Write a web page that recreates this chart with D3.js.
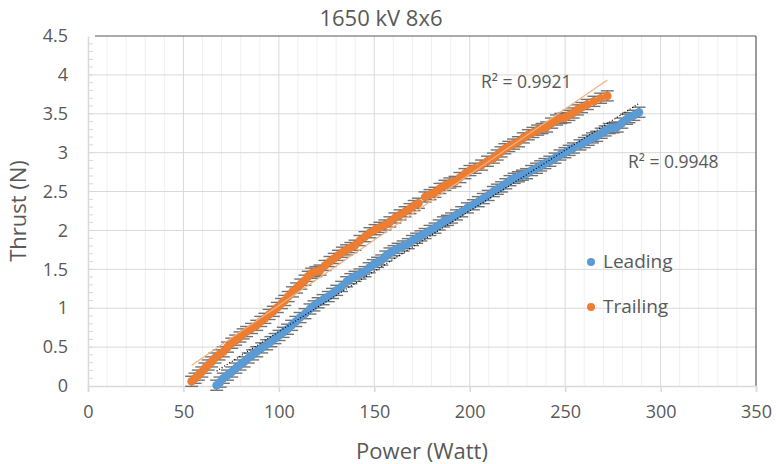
<!DOCTYPE html>
<html>
<head>
<meta charset="utf-8">
<script src="https://cdn.jsdelivr.net/npm/d3@7"></script>
<style>
  body { margin: 0; background: #fff; }
  text { font-family: "Open Sans", sans-serif; fill: #595959; }
</style>
</head>
<body>
<div id="chart"></div>
<script>
// values
const leadingPower = [67.4, 69.2, 70.9, 73.1, 75.3, 77.5, 79.6, 81.8, 84.0, 86.2, 88.4, 91.0, 93.6, 95.8, 98.0, 100.1, 102.3, 104.5, 106.7, 108.9, 111.1, 113.7, 116.3, 118.4, 120.6, 123.2, 125.9, 128.1, 130.3, 132.9, 135.5, 137.7, 139.9, 142.5, 145.1, 147.3, 149.5, 151.7, 153.9, 156.0, 158.2, 160.3, 162.5, 165.1, 167.8, 170.0, 172.2, 174.4, 176.6, 179.2, 181.8, 184.0, 186.2, 188.3, 190.5, 193.1, 195.8, 198.8, 201.9, 204.5, 207.1, 209.7, 212.4, 214.5, 216.7, 218.9, 221.1, 223.3, 225.5, 227.6, 229.8, 232.4, 235.0, 237.2, 239.4, 242.0, 244.7, 247.3, 249.9, 252.1, 254.3, 257.8, 260.0, 262.1, 264.3, 266.5, 268.9, 271.0, 273.1, 275.2, 277.3, 279.7, 282.2, 283.4, 286.0, 288.7];
const leadingThrust = [0.01, 0.05, 0.10, 0.14, 0.18, 0.23, 0.27, 0.31, 0.36, 0.40, 0.44, 0.49, 0.53, 0.57, 0.61, 0.65, 0.69, 0.73, 0.78, 0.83, 0.88, 0.93, 0.99, 1.03, 1.07, 1.11, 1.15, 1.19, 1.23, 1.28, 1.34, 1.38, 1.41, 1.44, 1.47, 1.52, 1.56, 1.59, 1.62, 1.67, 1.71, 1.74, 1.77, 1.80, 1.83, 1.87, 1.90, 1.93, 1.96, 2.00, 2.03, 2.07, 2.11, 2.13, 2.16, 2.20, 2.24, 2.29, 2.33, 2.37, 2.41, 2.45, 2.50, 2.53, 2.56, 2.60, 2.64, 2.67, 2.69, 2.71, 2.73, 2.77, 2.80, 2.83, 2.86, 2.89, 2.93, 2.97, 3.00, 3.03, 3.06, 3.10, 3.13, 3.16, 3.19, 3.21, 3.25, 3.28, 3.31, 3.32, 3.33, 3.38, 3.43, 3.45, 3.48, 3.52];

const trailingPower = [54.3, 56.1, 57.8, 59.6, 61.3, 63.0, 64.7, 66.5, 68.7, 70.9, 73.1, 75.3, 77.4, 79.6, 81.3, 83.1, 85.7, 88.4, 90.5, 92.7, 94.9, 97.1, 99.2, 101.4, 103.1, 104.9, 107.1, 109.3, 111.5, 113.7, 115.4, 117.2, 119.4, 121.6, 124.2, 126.8, 129.0, 131.2, 133.3, 135.5, 137.7, 139.9, 142.5, 145.1, 147.7, 150.4, 153.0, 155.6, 158.2, 160.8, 163.5, 166.1, 168.7, 170.9, 173.1, 176.6, 179.2, 181.8, 184.4, 187.0, 189.6, 192.3, 194.9, 197.5, 200.1, 202.8, 206.2, 209.3, 212.4, 214.4, 216.4, 218.4, 220.5, 223.0, 225.5, 228.1, 230.7, 233.1, 235.6, 237.9, 240.3, 242.9, 245.5, 247.7, 249.9, 252.0, 254.2, 256.4, 258.6, 261.6, 265.1, 268.6, 272.1];
const trailingThrust = [0.06, 0.10, 0.14, 0.18, 0.23, 0.27, 0.31, 0.36, 0.40, 0.44, 0.50, 0.55, 0.59, 0.63, 0.67, 0.70, 0.74, 0.78, 0.83, 0.87, 0.92, 0.96, 1.01, 1.06, 1.10, 1.15, 1.21, 1.26, 1.31, 1.36, 1.41, 1.45, 1.47, 1.49, 1.55, 1.60, 1.64, 1.68, 1.72, 1.75, 1.78, 1.81, 1.87, 1.92, 1.97, 2.01, 2.04, 2.07, 2.11, 2.16, 2.20, 2.24, 2.28, 2.32, 2.35, 2.43, 2.46, 2.49, 2.54, 2.58, 2.61, 2.63, 2.68, 2.73, 2.77, 2.80, 2.84, 2.89, 2.93, 2.97, 3.01, 3.05, 3.08, 3.11, 3.14, 3.19, 3.23, 3.26, 3.29, 3.31, 3.33, 3.38, 3.42, 3.44, 3.45, 3.48, 3.51, 3.55, 3.58, 3.62, 3.66, 3.70, 3.73];

const thrustError = 0.065;

const xTicks = [0, 50, 100, 150, 200, 250, 300, 350];
const yTicks = [0, 0.5, 1, 1.5, 2, 2.5, 3, 3.5, 4, 4.5];
const seriesNames = ["Leading", "Trailing"];
const seriesColors = ["#5B9BD5", "#ED7D31"];
const r2Labels = ["R² = 0.9948", "R² = 0.9921"];

const w = 776, h = 464;
const margin = { left: 88, right: 20, top: 36, bottom: 78 };

const x = d3.scaleLinear().domain([0, 350]).range([margin.left, w - margin.right]);
const y = d3.scaleLinear().domain([0, 4.5]).range([h - margin.bottom, margin.top]);

const svg = d3.select("#chart").append("svg").attr("width", w).attr("height", h);

// minor vertical gridlines every 10
svg.append("g").selectAll("line")
  .data(d3.range(10, 350, 10).filter(v => v % 50 !== 0))
  .enter().append("line")
  .attr("x1", d => x(d)).attr("x2", d => x(d))
  .attr("y1", y(0)).attr("y2", y(4.5))
  .attr("stroke", "#f0f0f0").attr("stroke-width", 1);

// major gridlines
svg.append("g").selectAll("line")
  .data(xTicks.slice(1, -1))
  .enter().append("line")
  .attr("x1", d => x(d)).attr("x2", d => x(d))
  .attr("y1", y(0)).attr("y2", y(4.5))
  .attr("stroke", "#d9d9d9").attr("stroke-width", 1);

svg.append("g").selectAll("line")
  .data(yTicks.slice(1, -1))
  .enter().append("line")
  .attr("x1", x(0)).attr("x2", x(350))
  .attr("y1", d => y(d)).attr("y2", d => y(d))
  .attr("stroke", "#d9d9d9").attr("stroke-width", 1);

// plot border (top and right dark)
svg.append("line").attr("x1", x(0) + 7).attr("x2", x(350)).attr("y1", y(4.5)).attr("y2", y(4.5))
  .attr("stroke", "#595959").attr("stroke-width", 1.2);
svg.append("line").attr("x1", x(350)).attr("x2", x(350)).attr("y1", y(4.5)).attr("y2", y(0))
  .attr("stroke", "#595959").attr("stroke-width", 1.2);

// x axis
const xAxis = svg.append("g")
  .attr("transform", "translate(0," + y(0) + ")")
  .call(d3.axisBottom(x).tickValues(xTicks).tickSize(6).tickPadding(13).tickFormat(d3.format("d")));
xAxis.select(".domain").attr("stroke", "#d9d9d9").attr("stroke-width", 1.5);
xAxis.selectAll(".tick line").attr("stroke", "#d9d9d9").attr("stroke-width", 1.5);
xAxis.selectAll("text").attr("font-size", 18).attr("fill", "#595959").attr("font-family", "Open Sans");

// y axis
const yAxis = svg.append("g")
  .attr("transform", "translate(" + x(0) + ",0)")
  .call(d3.axisLeft(y).tickValues(yTicks).tickSize(0).tickPadding(20).tickFormat(d => d));
yAxis.select(".domain").attr("stroke", "#d9d9d9").attr("stroke-width", 1.5);
yAxis.selectAll("text").attr("font-size", 18).attr("fill", "#595959").attr("font-family", "Open Sans");

// y minor ticks every 0.1
svg.append("g").selectAll("line")
  .data(d3.range(1, 45).map(i => i / 10))
  .enter().append("line")
  .attr("x1", x(0)).attr("x2", x(0) + 5)
  .attr("y1", d => y(d)).attr("y2", d => y(d))
  .attr("stroke", "#d9d9d9").attr("stroke-width", 1);

const series = [
  { power: leadingPower, thrust: leadingThrust },
  { power: trailingPower, thrust: trailingThrust }
];

// error bars
series.forEach(s => {
  const pts = d3.zip(s.power, s.thrust);
  const g = svg.append("g").attr("stroke", "#737373").attr("stroke-width", 1.4);
  pts.forEach(([p, t]) => {
    g.append("line").attr("x1", x(p)).attr("x2", x(p)).attr("y1", y(t - thrustError)).attr("y2", y(t + thrustError));
    [t - thrustError, t + thrustError].forEach(v => {
      g.append("line").attr("x1", x(p) - 6.5).attr("x2", x(p) + 6.5).attr("y1", y(v)).attr("y2", y(v));
    });
  });
});

// markers
series.forEach((s, i) => {
  svg.append("g").selectAll("circle")
    .data(d3.zip(s.power, s.thrust))
    .enter().append("circle")
    .attr("cx", d => x(d[0])).attr("cy", d => y(d[1]))
    .attr("r", 4.3).attr("fill", seriesColors[i]);
});

// linear trendlines
function fit(px, py) {
  const mx = d3.mean(px), my = d3.mean(py);
  const b = d3.sum(px.map((v, k) => (v - mx) * (py[k] - my))) / d3.sum(px.map(v => (v - mx) * (v - mx)));
  return { b: b, a: my - b * mx };
}
const trendStyles = [
  { stroke: "#000", width: 1.2, dash: "1,2" },
  { stroke: "#F4B183", width: 1.2, dash: null }
];
series.forEach((s, i) => {
  const f = fit(s.power, s.thrust);
  const x0 = d3.min(s.power), x1 = d3.max(s.power);
  svg.append("line")
    .attr("x1", x(x0)).attr("y1", y(f.a + f.b * x0))
    .attr("x2", x(x1)).attr("y2", y(f.a + f.b * x1))
    .attr("stroke", trendStyles[i].stroke)
    .attr("stroke-width", trendStyles[i].width)
    .attr("stroke-dasharray", trendStyles[i].dash);
});

// R² labels
svg.append("text").attr("x", 628).attr("y", 168).attr("font-size", 17.5).text(r2Labels[0]);
svg.append("text").attr("x", 481).attr("y", 88).attr("font-size", 17.5).text(r2Labels[1]);

// legend
seriesNames.forEach((name, i) => {
  const ly = 262 + i * 45;
  svg.append("circle").attr("cx", 591).attr("cy", ly).attr("r", 4).attr("fill", seriesColors[i]);
  svg.append("text").attr("x", 603).attr("y", ly + 6).attr("font-size", 19).text(name);
});

// title and axis titles
svg.append("text").attr("x", 381).attr("y", 26).attr("text-anchor", "middle")
  .attr("font-size", 22).text("1650 kV 8x6");
svg.append("text").attr("x", 422).attr("y", 459).attr("text-anchor", "middle")
  .attr("font-size", 22).text("Power (Watt)");
svg.append("text").attr("transform", "translate(26," + 211 + ") rotate(-90)")
  .attr("text-anchor", "middle").attr("font-size", 22).text("Thrust (N)");
</script>
</body>
</html>
